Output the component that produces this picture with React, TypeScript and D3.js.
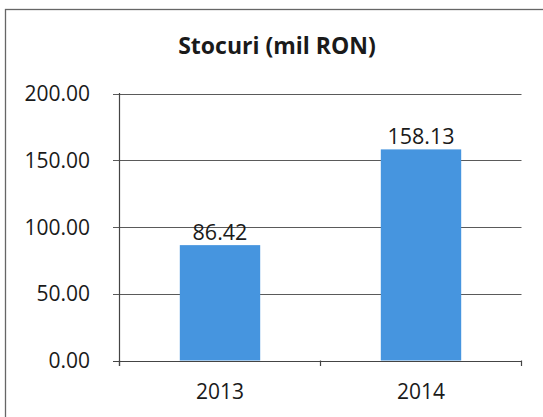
import React from "react";
import * as d3 from "d3";

const categories = ["2013", "2014"];
const values = [86.42, 158.13];
const yTicks = [0, 50, 100, 150, 200];
const title = "Stocuri (mil RON)";

export default function App() {
  const W = 543, H = 417;
  const x = d3.scaleBand<string>().domain(categories).range([119.5, 521.5]).paddingInner(0.6).paddingOuter(0.3);
  const y = d3.scaleLinear().domain([0, 200]).range([360.5, 93.5]);
  const font = "'Open Sans', sans-serif";
  const boundaries = [x.range()[0], (x.range()[0] + x.range()[1]) / 2, x.range()[1]];
  return (
    <svg width={W} height={H} style={{ position: "absolute", left: 0, top: 0, background: "#fff" }}>
      <rect x={5.5} y={9.5} width={700} height={600} fill="#fff" stroke="#666" strokeWidth={1.3} />
      <text x={277} y={54} textAnchor="middle" fontFamily={font} fontWeight={700} fontSize={23} fill="#1a1a1a">{title}</text>
      {yTicks.map((t) => (
        <g key={t}>
          <line x1={113} x2={521.5} y1={Math.round(y(t)) + 0.5} y2={Math.round(y(t)) + 0.5} stroke="#5a5a5a" strokeWidth={1} />
          <text x={90} y={y(t) + 7.5} textAnchor="end" fontFamily={font} fontSize={21} fill="#1a1a1a">{d3.format(".2f")(t)}</text>
        </g>
      ))}
      {categories.map((c, i) => (
        <g key={c}>
          <rect x={x(c)} y={y(values[i])} width={x.bandwidth()} height={y(0) - y(values[i])} fill="#4695df" />
          <text x={(x(c) as number) + x.bandwidth() / 2} y={y(values[i]) - 5} textAnchor="middle" fontFamily={font} fontSize={21.5} fill="#1a1a1a">{d3.format(".2f")(values[i])}</text>
          <text x={(x(c) as number) + x.bandwidth() / 2} y={399} textAnchor="middle" fontFamily={font} fontSize={21} fill="#1a1a1a">{c}</text>
        </g>
      ))}
      <line x1={119.5} x2={119.5} y1={93} y2={366} stroke="#444" strokeWidth={1.2} />
      <line x1={113} x2={521.5} y1={Math.round(y(0)) + 0.5} y2={Math.round(y(0)) + 0.5} stroke="#444" strokeWidth={1.2} />
      {boundaries.map((b, i) => (
        <line key={i} x1={b} x2={b} y1={y(0)} y2={366} stroke="#444" strokeWidth={1.2} />
      ))}
    </svg>
  );
}
